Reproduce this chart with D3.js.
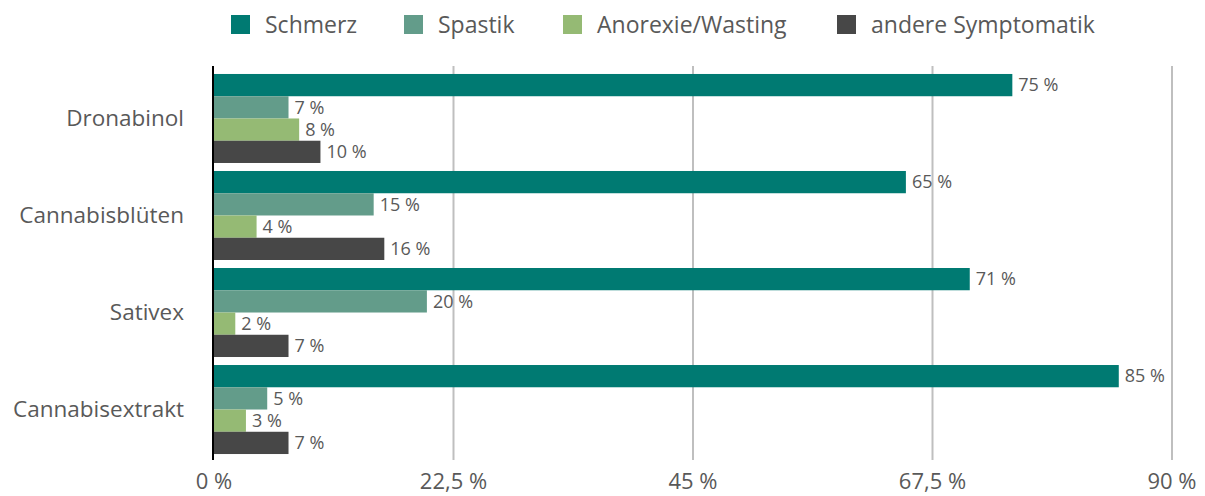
<!DOCTYPE html>
<html>
<head>
<meta charset="utf-8">
<style>
  body { margin: 0; background: #fff; }
  text { font-family: "Open Sans", sans-serif; fill: #595959; }
</style>
</head>
<body>
<svg width="1205" height="496"></svg>
<script src="https://d3js.org/d3.v7.min.js"></script>
<script>
  var categories = ["Dronabinol", "Cannabisblüten", "Sativex", "Cannabisextrakt"];
  var series = ["Schmerz", "Spastik", "Anorexie/Wasting", "andere Symptomatik"];
  var colors = ["#007a72", "#639c8a", "#95ba74", "#474747"];

  // percent per category, in series order
  var schmerz = [75, 65, 71, 85];
  var spastik = [7, 15, 20, 5];
  var anorexie = [8, 4, 2, 3];
  var andere = [10, 16, 7, 7];
  var values = [schmerz, spastik, anorexie, andere];

  var ticks = [0, 22.5, 45, 67.5, 90];

  var svg = d3.select("svg"),
      plotTop = 66,
      plotBottom = 460;

  var x = d3.scaleLinear().domain([0, 90]).range([214, 1172]);

  var y0 = d3.scaleBand()
      .domain(categories)
      .range([70, 458])
      .paddingInner(0.0825)
      .paddingOuter(0.041);

  var y1 = d3.scaleBand()
      .domain(series)
      .range([0, y0.bandwidth()]);

  // gridlines
  svg.append("g")
    .selectAll("line")
    .data(ticks.slice(1))
    .join("line")
      .attr("x1", function(d) { return x(d); })
      .attr("x2", function(d) { return x(d); })
      .attr("y1", plotTop)
      .attr("y2", plotBottom)
      .attr("stroke", "#bfbfbf")
      .attr("stroke-width", 2);

  // bars
  var rows = [];
  categories.forEach(function(c, i) {
    series.forEach(function(s, j) {
      rows.push({cat: c, ser: s, idx: j, v: values[j][i]});
    });
  });

  svg.append("g")
    .selectAll("rect")
    .data(rows)
    .join("rect")
      .attr("x", x(0))
      .attr("y", function(d) { return y0(d.cat) + y1(d.ser); })
      .attr("width", function(d) { return x(d.v) - x(0); })
      .attr("height", y1.bandwidth())
      .attr("fill", function(d) { return colors[d.idx]; });

  svg.append("g")
    .selectAll("text")
    .data(rows)
    .join("text")
      .attr("x", function(d) { return x(d.v) + 6; })
      .attr("y", function(d) { return y0(d.cat) + y1(d.ser) + y1.bandwidth() / 2; })
      .attr("dy", "0.35em")
      .style("font-size", "18px")
      .text(function(d) { return d.v + " %"; });

  // category axis
  svg.append("line")
      .attr("x1", x(0) - 1).attr("x2", x(0) - 1)
      .attr("y1", plotTop).attr("y2", plotBottom)
      .attr("stroke", "#000").attr("stroke-width", 2);

  svg.append("g")
    .selectAll("text")
    .data(categories)
    .join("text")
      .attr("x", 184)
      .attr("y", function(d) { return y0(d) + y0.bandwidth() / 2; })
      .attr("dy", "0.35em")
      .attr("text-anchor", "end")
      .style("font-size", "22.5px")
      .text(function(d) { return d; });

  // value axis labels
  svg.append("g")
    .selectAll("text")
    .data(ticks)
    .join("text")
      .attr("x", function(d) { return x(d); })
      .attr("y", 481)
      .attr("dy", "0.35em")
      .attr("text-anchor", "middle")
      .style("font-size", "22px")
      .text(function(d) { return String(d).replace(".", ",") + " %"; });

  // legend
  var legendX = [231, 404, 563, 837];
  var legend = svg.append("g")
    .selectAll("g")
    .data(series)
    .join("g")
      .attr("transform", function(d, i) { return "translate(" + legendX[i] + ",15)"; });

  legend.append("rect")
      .attr("width", 19).attr("height", 19)
      .attr("fill", function(d, i) { return colors[i]; });

  legend.append("text")
      .attr("x", 34).attr("y", 10)
      .attr("dy", "0.35em")
      .style("font-size", "23px")
      .text(function(d) { return d; });
</script>
</body>
</html>
